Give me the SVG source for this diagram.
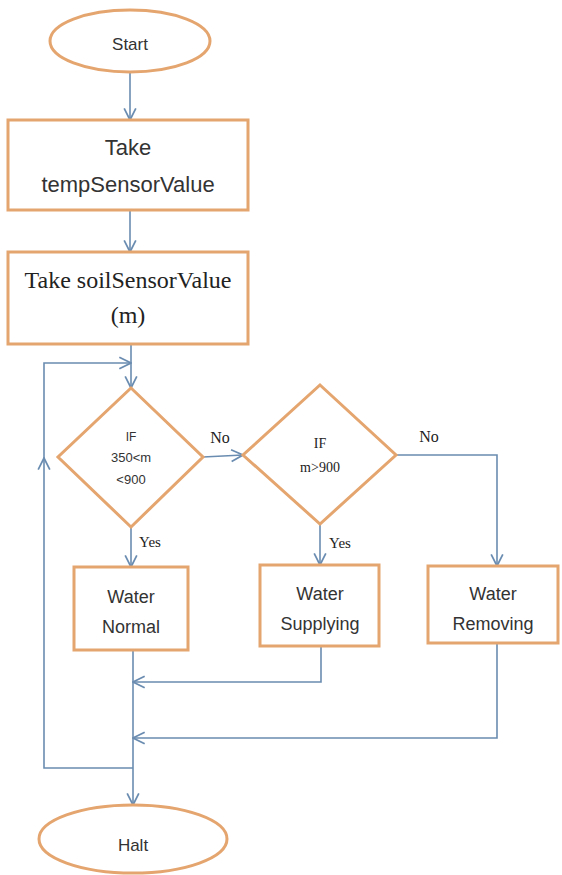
<svg xmlns="http://www.w3.org/2000/svg" width="562" height="875" viewBox="0 0 562 875">
<defs>
<marker id="arr" markerUnits="userSpaceOnUse" markerWidth="14" markerHeight="14" viewBox="0 0 12 12" refX="11" refY="6" orient="auto">
<path d="M1,1 L11,6 L1,11" fill="none" stroke="#6A8CB0" stroke-width="1.5"/>
</marker>
<style>
.shape{fill:#fff;stroke:#E5A56E;stroke-width:3}
.con{fill:none;stroke:#6A8CB0;stroke-width:1.6}
.sans{font-family:"Liberation Sans",Arial,sans-serif;fill:#333;text-anchor:middle}
.serif{font-family:"Liberation Serif","Times New Roman",serif;fill:#222;text-anchor:middle}
</style>
</defs>
<rect width="562" height="875" fill="#fff"/>
<g id="connectors">
<path class="con" d="M130,72 L130,120" marker-end="url(#arr)"/>
<path class="con" d="M130,210 L130,252" marker-end="url(#arr)"/>
<path class="con" d="M131,344 L131,388" marker-end="url(#arr)"/>
<path class="con" d="M133,768 L44,768 L44,458" marker-end="url(#arr)"/>
<path class="con" d="M44,458 L44,363 L131,363" marker-end="url(#arr)"/>
<path class="con" d="M203,457 L243,455" marker-end="url(#arr)"/>
<path class="con" d="M396,455 L497,455 L497,566" marker-end="url(#arr)"/>
<path class="con" d="M131,527 L131,567" marker-end="url(#arr)"/>
<path class="con" d="M320,524 L320,565" marker-end="url(#arr)"/>
<path class="con" d="M133,650 L133,805" marker-end="url(#arr)"/>
<path class="con" d="M321,646 L321,682 L133,682" marker-end="url(#arr)"/>
<path class="con" d="M497,643 L497,738 L133,738" marker-end="url(#arr)"/>
<text class="serif" x="220" y="443" font-size="16">No</text>
<text class="serif" x="429" y="442" font-size="16">No</text>
<text class="serif" x="150" y="547" font-size="15">Yes</text>
<text class="serif" x="340" y="548" font-size="15">Yes</text>
</g>
<g id="start">
<ellipse class="shape" cx="130" cy="41" rx="80" ry="31"/>
<text class="sans" x="130" y="50" font-size="17">Start</text>
</g>
<g id="take-temp">
<rect class="shape" x="8" y="120" width="240" height="90"/>
<text class="sans" x="128" y="155" font-size="22">Take</text>
<text class="sans" x="128" y="192" font-size="22">tempSensorValue</text>
</g>
<g id="take-soil">
<rect class="shape" x="8" y="252" width="240" height="92"/>
<text class="serif" x="128" y="288" font-size="24">Take soilSensorValue</text>
<text class="serif" x="128" y="323" font-size="24">(m)</text>
</g>
<g id="if1">
<polygon class="shape" points="131,388 203,457 131,527 58,457"/>
<text class="sans" x="131" y="441" font-size="12">IF</text>
<text class="sans" x="131" y="462" font-size="13">350&lt;m</text>
<text class="sans" x="131" y="484" font-size="13">&lt;900</text>
</g>
<g id="if2">
<polygon class="shape" points="320,385 396,455 320,524 243,455"/>
<text class="serif" x="320" y="448" font-size="14">IF</text>
<text class="serif" x="320" y="472" font-size="14">m&gt;900</text>
</g>
<g id="water-normal">
<rect class="shape" x="74" y="567" width="114" height="83"/>
<text class="sans" x="131" y="603" font-size="18">Water</text>
<text class="sans" x="131" y="633" font-size="18">Normal</text>
</g>
<g id="water-supplying">
<rect class="shape" x="260" y="565" width="119" height="81"/>
<text class="sans" x="320" y="600" font-size="18">Water</text>
<text class="sans" x="320" y="630" font-size="18">Supplying</text>
</g>
<g id="water-removing">
<rect class="shape" x="428" y="566" width="130" height="77"/>
<text class="sans" x="493" y="600" font-size="18">Water</text>
<text class="sans" x="493" y="630" font-size="18">Removing</text>
</g>
<g id="halt">
<ellipse class="shape" cx="133" cy="839" rx="94" ry="34"/>
<text class="sans" x="133" y="851" font-size="17">Halt</text>
</g>
</svg>
